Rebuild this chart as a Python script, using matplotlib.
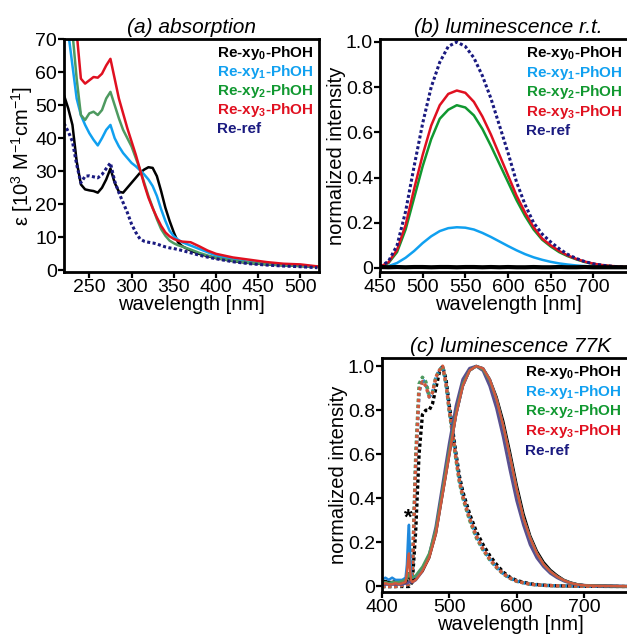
import matplotlib
matplotlib.use("Agg")
import matplotlib.pyplot as plt
from matplotlib.ticker import FixedLocator

plt.rcParams['font.family'] = ['Liberation Sans', 'DejaVu Sans']
plt.rcParams['mathtext.fontset'] = 'custom'
plt.rcParams['mathtext.rm'] = 'Liberation Sans'
plt.rcParams['mathtext.it'] = 'Liberation Sans:italic'
plt.rcParams['mathtext.bf'] = 'Liberation Sans:bold'

# ---- (a) absorption ----
abs_wl = [220, 225, 230, 235, 240, 245, 250, 255, 260, 265, 270, 275, 280, 285, 290, 295, 300,
          305, 310, 315, 320, 325, 330, 335, 340, 345, 350, 355, 360, 370, 380, 390, 400, 420,
          440, 460, 480, 500, 520]
abs_xy0 = [53, 49, 44, 33, 26, 24.5, 24.2, 24, 23.5, 25, 27.5, 30.8, 26.5, 23.8, 23.5, 25, 26.5,
           28, 29.5, 30.5, 31.2, 31, 28.5, 24, 19, 15, 11.5, 8.5, 7.3, 6, 5, 4.3, 3.7, 2.8,
           2.2, 1.8, 1.5, 1.3, 1.0]
abs_xy1 = [80, 72, 62, 52, 47, 44, 41.5, 39.5, 37.8, 40, 42.5, 44, 40, 37.5, 35.5, 34, 32.5,
           31.5, 30.3, 29, 27.5, 25.5, 22.5, 18.5, 15, 12, 10.3, 9.3, 8.5, 7.5, 6.5, 5.5, 4.5, 3.3,
           2.5, 2.0, 1.6, 1.4, 1.1]
abs_xy2 = [90, 82, 72, 58, 47, 45.5, 47.5, 48, 47, 48.5, 52, 54, 50, 46, 42.5, 40, 37.5,
           34, 30.5, 26.5, 22.5, 19, 15.5, 12.5, 10.5, 9, 8.2, 7.6, 7.2, 6.3, 5.3, 4.5, 3.8, 2.9,
           2.3, 1.9, 1.6, 1.4, 1.1]
abs_xy3 = [100, 95, 88, 72, 58, 56.5, 57.5, 58.5, 58.3, 59.5, 62, 64, 58, 52, 47.5, 43, 39,
           35, 30.5, 26, 22, 18.8, 16, 13.5, 11.5, 10.3, 9.5, 9, 8.7, 8.5, 7.3, 6, 5, 3.9,
           3.2, 2.5, 2.0, 1.8, 1.2]
abs_ref = [44.5, 42, 39, 32, 26.5, 28.5, 28.6, 28.3, 28, 29, 30.8, 32.5, 27, 23.5, 20.5, 17.5, 14,
           11.5, 9.5, 8.8, 8.5, 8.3, 8, 7.5, 7.1, 6.8, 6.6, 6.3, 6.0, 5.3, 4.6, 4.0, 3.5, 2.6,
           2.0, 1.6, 1.3, 1.1, 0.8]

# ---- (b) luminescence r.t. ----
rt_wl = [450, 460, 470, 480, 490, 500, 510, 520, 530, 540, 550, 560, 570, 580, 590, 600,
         610, 620, 630, 640, 650, 660, 670, 680, 690, 700, 710, 720, 730, 740]
rt_xy0 = [0.004, 0.003, 0.004, 0.003, 0.004, 0.004, 0.003, 0.004, 0.004, 0.003, 0.004, 0.004,
          0.003, 0.004, 0.003, 0.004, 0.003, 0.003, 0.004, 0.003, 0.003, 0.004, 0.003, 0.003,
          0.004, 0.003, 0.003, 0.003, 0.003, 0.003]
rt_xy1 = [0.002, 0.008, 0.022, 0.045, 0.075, 0.11, 0.14, 0.163, 0.176, 0.18, 0.178, 0.17,
          0.155, 0.137, 0.117, 0.097, 0.078, 0.061, 0.047, 0.036, 0.027, 0.02, 0.015, 0.011,
          0.008, 0.006, 0.004, 0.003, 0.002, 0.001]
rt_xy2 = [0.004, 0.022, 0.07, 0.17, 0.31, 0.45, 0.57, 0.66, 0.70, 0.72, 0.71, 0.675, 0.615,
          0.54, 0.46, 0.38, 0.30, 0.23, 0.17, 0.125, 0.095, 0.07, 0.052, 0.038, 0.026, 0.018,
          0.012, 0.008, 0.005, 0.003]
rt_xy3 = [0.005, 0.025, 0.08, 0.19, 0.35, 0.50, 0.63, 0.72, 0.77, 0.785, 0.775, 0.735, 0.67,
          0.59, 0.50, 0.41, 0.32, 0.245, 0.18, 0.13, 0.10, 0.075, 0.055, 0.04, 0.028, 0.019,
          0.013, 0.009, 0.006, 0.004]
rt_ref = [0.005, 0.03, 0.10, 0.25, 0.45, 0.64, 0.80, 0.91, 0.98, 1.0, 0.98, 0.93, 0.85, 0.75,
          0.63, 0.51, 0.38, 0.28, 0.20, 0.15, 0.115, 0.085, 0.06, 0.042, 0.028, 0.018, 0.012,
          0.008, 0.005, 0.003]

# ---- (c) luminescence 77K ----
# broad (solid) emission
k_wl = [400, 405, 410, 415, 420, 425, 430, 435, 437, 439, 440, 441, 443, 445, 450, 460, 470,
        480, 490, 500, 510, 520, 530, 540, 550, 560, 570, 580, 590, 600, 610, 620, 630, 640,
        650, 660, 670, 680, 690, 700, 720, 740, 770]
k_xy0 = [0.02, 0.025, 0.02, 0.02, 0.025, 0.02, 0.02, 0.02, 0.03, 0.05, 0.06, 0.04, 0.03, 0.03,
         0.04, 0.07, 0.13, 0.24, 0.42, 0.60, 0.78, 0.91, 0.98, 1.0, 0.99, 0.94, 0.86, 0.75, 0.61,
         0.46, 0.33, 0.23, 0.16, 0.11, 0.075, 0.05, 0.03, 0.018, 0.01, 0.006, 0.003, 0.002, 0.0]
k_xy1 = [0.03, 0.04, 0.03, 0.04, 0.03, 0.03, 0.03, 0.04, 0.1, 0.24, 0.28, 0.2, 0.06, 0.04,
         0.045, 0.08, 0.14, 0.25, 0.43, 0.61, 0.78, 0.91, 0.98, 1.0, 0.99, 0.94, 0.85, 0.73, 0.59,
         0.44, 0.31, 0.22, 0.15, 0.10, 0.068, 0.045, 0.028, 0.016, 0.009, 0.005, 0.003, 0.002, 0.0]
k_xy2 = [0.015, 0.02, 0.015, 0.02, 0.02, 0.02, 0.025, 0.03, 0.035, 0.05, 0.06, 0.05, 0.04,
         0.04, 0.05, 0.09, 0.15, 0.26, 0.44, 0.62, 0.79, 0.92, 0.98, 1.0, 0.985, 0.935, 0.85,
         0.73, 0.59, 0.44, 0.31, 0.22, 0.15, 0.10, 0.068, 0.045, 0.028, 0.016, 0.009, 0.005,
         0.003, 0.002, 0.0]
k_xy3 = [0.01, 0.015, 0.01, 0.01, 0.015, 0.01, 0.015, 0.02, 0.06, 0.13, 0.15, 0.1, 0.03, 0.02,
         0.03, 0.07, 0.13, 0.24, 0.42, 0.60, 0.78, 0.91, 0.98, 1.0, 0.99, 0.94, 0.85, 0.73, 0.59,
         0.44, 0.31, 0.22, 0.15, 0.10, 0.068, 0.045, 0.028, 0.016, 0.009, 0.005, 0.003, 0.002, 0.0]
k_ref = [0.01, 0.01, 0.01, 0.01, 0.01, 0.01, 0.01, 0.015, 0.015, 0.02, 0.02, 0.02, 0.02, 0.02,
         0.03, 0.07, 0.14, 0.27, 0.46, 0.65, 0.82, 0.94, 0.99, 1.0, 0.98, 0.91, 0.81, 0.68, 0.53,
         0.39, 0.28, 0.19, 0.13, 0.09, 0.06, 0.04, 0.025, 0.015, 0.008, 0.005, 0.003, 0.002, 0.0]
# structured (dotted) emission
s_wl = [400, 420, 440, 445, 450, 455, 460, 465, 470, 475, 480, 485, 490, 495, 500, 505, 510,
        515, 520, 530, 540, 550, 560, 570, 580, 590, 600, 620, 640, 660, 700, 770]
s_xy0 = [0.0, 0.0, 0.0, 0.02, 0.25, 0.6, 0.78, 0.8, 0.8, 0.83, 0.9, 0.97, 1.0, 0.94, 0.82, 0.71,
         0.6, 0.5, 0.43, 0.33, 0.25, 0.19, 0.14, 0.1, 0.065, 0.042, 0.027, 0.012, 0.006, 0.003,
         0.001, 0.0]
s_xy1 = [0.0, 0.0, 0.01, 0.05, 0.55, 0.88, 0.94, 0.92, 0.86, 0.88, 0.95, 0.98, 1.0, 0.92, 0.8,
         0.69, 0.58, 0.48, 0.41, 0.31, 0.23, 0.17, 0.125, 0.088, 0.058, 0.038, 0.024, 0.01,
         0.005, 0.003, 0.001, 0.0]
s_xy2 = [0.0, 0.0, 0.01, 0.06, 0.6, 0.92, 0.95, 0.93, 0.87, 0.88, 0.95, 0.98, 1.0, 0.92, 0.79,
         0.68, 0.57, 0.47, 0.40, 0.30, 0.22, 0.165, 0.12, 0.085, 0.056, 0.037, 0.023, 0.01,
         0.005, 0.003, 0.001, 0.0]
s_xy3 = [0.0, 0.0, 0.01, 0.05, 0.55, 0.89, 0.93, 0.91, 0.86, 0.88, 0.95, 0.98, 1.0, 0.92, 0.8,
         0.69, 0.58, 0.48, 0.41, 0.31, 0.23, 0.17, 0.125, 0.088, 0.058, 0.038, 0.024, 0.01,
         0.005, 0.003, 0.001, 0.0]

names = ['Re-xy$_\\mathbf{0}$-PhOH', 'Re-xy$_\\mathbf{1}$-PhOH', 'Re-xy$_\\mathbf{2}$-PhOH',
         'Re-xy$_\\mathbf{3}$-PhOH', 'Re-ref']
leg_colors = ['#000000', '#10A0F0', '#109830', '#E01020', '#1A1A80']
abs_colors = ['#000000', '#10A0F0', '#4E9A60', '#E01020', '#1A1A80']
k_colors = ['#000000', '#1E88DD', '#4E9A60', '#D0583C', '#5A5090']

W, H = 627, 637
fig = plt.figure(figsize=(W / 100, H / 100), dpi=100)

FS = 14.5   # axis labels / titles
TS = 14     # tick labels
LS = 11     # legend text


def box(l, t, r, b):
    return [l / W, 1 - b / H, (r - l) / W, (b - t) / H]


def style(ax):
    for s in ax.spines.values():
        s.set_linewidth(2.0)
    ax.tick_params(direction='out', length=4, width=1.6, labelsize=TS, pad=1)


def legend(ax, x0, y0, dy):
    for i, (n, c) in enumerate(zip(names, leg_colors)):
        ax.text(x0, y0 - i * dy, n, color=c, fontsize=LS, fontweight='bold',
                transform=ax.transAxes, va='center', ha='left')


# (a)
ax = fig.add_axes(box(64, 39, 319, 272))
style(ax)
for y, c in zip([abs_xy0, abs_xy1, abs_xy2, abs_xy3], abs_colors[:4]):
    ax.plot(abs_wl, y, color=c, lw=1.8)
ax.plot(abs_wl, abs_ref, color=abs_colors[4], lw=2.2, ls=(0, (1, 0.8)))
ax.set_xlim(220, 522)
ax.set_ylim(-0.5, 70)
ax.xaxis.set_major_locator(FixedLocator([250, 300, 350, 400, 450, 500]))
ax.yaxis.set_major_locator(FixedLocator([0, 10, 20, 30, 40, 50, 60, 70]))
ax.set_xlabel('wavelength [nm]', fontsize=FS, labelpad=-1)
ax.set_ylabel('ε [10$^3$ M$^{-1}$cm$^{-1}$]', fontsize=FS, labelpad=0)
ax.set_title('(a) absorption', fontsize=15, style='italic', pad=4)
legend(ax, 0.6, 0.94, 0.082)

# (b)
ax = fig.add_axes(box(380, 39, 636, 272))
style(ax)
for y, c in zip([rt_xy1, rt_xy2, rt_xy3], leg_colors[1:4]):
    ax.plot(rt_wl, y, color=c, lw=1.8)
ax.plot(rt_wl, rt_ref, color=leg_colors[4], lw=2.2, ls=(0, (1, 0.8)))
ax.plot(rt_wl, rt_xy0, color='k', lw=3)
ax.set_xlim(450, 750)
ax.set_ylim(-0.018, 1.013)
ax.xaxis.set_major_locator(FixedLocator([450, 500, 550, 600, 650, 700]))
ax.yaxis.set_major_locator(FixedLocator([0, 0.2, 0.4, 0.6, 0.8, 1.0]))
ax.set_yticklabels(['0', '0.2', '0.4', '0.6', '0.8', '1.0'])
ax.set_xlabel('wavelength [nm]', fontsize=FS, labelpad=-1)
ax.set_ylabel('normalized intensity', fontsize=FS, labelpad=0)
ax.set_title('(b) luminescence r.t.', fontsize=15, style='italic', pad=4)
legend(ax, 0.57, 0.94, 0.084)

# (c)
ax = fig.add_axes(box(382, 358, 638, 592))
style(ax)
for y, c in zip([s_xy0, s_xy1, s_xy2, s_xy3], k_colors[:4]):
    ax.plot(s_wl, y, color=c, lw=2.4, ls=(0, (1, 0.8)))
ax.plot(k_wl, k_ref, color=k_colors[4], lw=2.2)
for y, c in zip([k_xy0, k_xy1, k_xy2, k_xy3], k_colors[:4]):
    ax.plot(k_wl, y, color=c, lw=1.8)
ax.text(439, 0.31, '*', fontsize=16, fontweight='bold', ha='center', va='center')
ax.set_xlim(400, 780)
ax.set_ylim(-0.025, 1.037)
ax.xaxis.set_major_locator(FixedLocator([400, 500, 600, 700]))
ax.yaxis.set_major_locator(FixedLocator([0, 0.2, 0.4, 0.6, 0.8, 1.0]))
ax.set_yticklabels(['0', '0.2', '0.4', '0.6', '0.8', '1.0'])
ax.set_xlabel('wavelength [nm]', fontsize=FS, labelpad=-1)
ax.set_ylabel('normalized intensity', fontsize=FS, labelpad=0)
ax.set_title('(c) luminescence 77K', fontsize=15, style='italic', pad=4)
legend(ax, 0.56, 0.94, 0.084)

fig.savefig('out.png', dpi=100)
